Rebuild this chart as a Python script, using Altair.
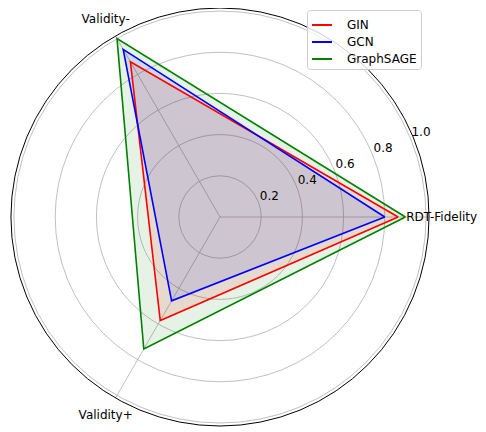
import math
import pandas as pd
import altair as alt

# ---- data ----
categories = ["RDT-Fidelity", "Validity-", "Validity+"]
models = ["GIN", "GCN", "GraphSAGE"]
gin_vals = [0.865, 0.87, 0.58]
gcn_vals = [0.80, 0.94, 0.47]
sage_vals = [0.90, 1.00, 0.74]
colors = ["#ff0000", "#0000ff", "#008000"]
r_ticks = [0.2, 0.4, 0.6, 0.8, 1.0]
r_tick_labels = ["0.2", "0.4", "0.6", "0.8", "1.0"]

RMAX = 1.0146
W = 418
N = len(categories)
TWO_PI_N = "(2*PI/3)"

values = {"GIN": gin_vals, "GCN": gcn_vals, "GraphSAGE": sage_vals}
rows = []
for m in models:
    for k in range(N + 1):
        i = k % N
        rows.append({"model": m, "idx": i, "ord": k, "value": values[m][i],
                     "category": categories[i]})
poly = pd.DataFrame(rows)

cats = pd.DataFrame({"category": categories, "idx": list(range(N))})
grid = pd.DataFrame({"r": r_ticks})
frame = pd.DataFrame({"r": [RMAX]})
ticks = pd.DataFrame({"v": r_ticks, "label": r_tick_labels})

xs = alt.Scale(domain=[-RMAX, RMAX])
ys = alt.Scale(domain=[-RMAX, RMAX])
rs = alt.Scale(type="linear", domain=[0, RMAX], range=[0, W / 2], zero=True)


def X(f):
    return alt.X(f"{f}:Q", scale=xs, axis=None)


def Y(f):
    return alt.Y(f"{f}:Q", scale=ys, axis=None)


poly_base = alt.Chart(poly).transform_calculate(
    th=f"datum.idx*{TWO_PI_N}"
).transform_calculate(
    x="datum.value*cos(datum.th)", y="datum.value*sin(datum.th)"
)

grid_layer = alt.Chart(grid).mark_arc(
    theta=0, theta2=2 * math.pi, filled=False, stroke="#b0b0b0", strokeWidth=0.8
).encode(radius=alt.Radius("r:Q", scale=rs, stack=None))

spokes = alt.Chart(cats).transform_calculate(
    th=f"datum.idx*{TWO_PI_N}"
).transform_calculate(
    x0="0", y0="0", x1=f"{RMAX}*cos(datum.th)", y1=f"{RMAX}*sin(datum.th)"
).mark_rule(color="#b0b0b0", strokeWidth=0.8).encode(
    x=X("x0"), y=Y("y0"), x2="x1:Q", y2="y1:Q"
)

frame_layer = alt.Chart(frame).mark_arc(
    theta=0, theta2=2 * math.pi, filled=False, stroke="black", strokeWidth=1
).encode(radius=alt.Radius("r:Q", scale=rs, stack=None))

fill_layers = []
for m, c in zip(models, colors):
    fill_layers.append(
        poly_base.transform_filter(alt.datum.model == m).mark_line(
            stroke=c, strokeOpacity=0, fill=c, fillOpacity=0.1
        ).encode(x=X("x"), y=Y("y"), order=alt.Order("ord:Q"))
    )

lines = poly_base.mark_line(strokeWidth=1.6).encode(
    x=X("x"), y=Y("y"), order=alt.Order("ord:Q"),
    color=alt.Color("model:N", scale=alt.Scale(domain=models, range=colors),
                    legend=alt.Legend(title=None, orient="none", legendX=296, legendY=2)),
)

cat_base = alt.Chart(cats).transform_calculate(
    th=f"datum.idx*{TWO_PI_N}"
).transform_calculate(
    x="1.11*cos(datum.th)", y="1.11*sin(datum.th)"
)
cat_labels_left = cat_base.transform_filter("datum.idx > 0").mark_text(
    align="center", baseline="middle", fontSize=12, font="DejaVu Sans", color="black"
).encode(x=X("x"), y=Y("y"), text="category:N")
cat_labels_right = cat_base.transform_filter("datum.idx == 0").mark_text(
    align="center", baseline="middle", fontSize=12, font="DejaVu Sans", color="black", dx=-7
).encode(x=X("x"), y=Y("y"), text="category:N")

tick_labels = alt.Chart(ticks).transform_calculate(
    x="(datum.v+0.06)*cos(23*PI/180)", y="(datum.v+0.06)*sin(23*PI/180)"
).mark_text(align="center", baseline="middle", fontSize=12, font="DejaVu Sans",
            color="black").encode(x=X("x"), y=Y("y"), text="label:N")

chart = alt.layer(
    grid_layer, spokes, frame_layer, *fill_layers, lines,
    cat_labels_left, cat_labels_right, tick_labels
).properties(
    width=W, height=W,
    autosize=alt.AutoSizeParams(type="none"),
    padding={"left": 3, "top": 0, "right": 49, "bottom": 6},
).configure_view(stroke=None).configure_legend(
    symbolType="stroke", symbolStrokeWidth=2, symbolSize=400,
    labelFontSize=12, labelFont="DejaVu Sans", labelColor="black",
    fillColor="rgba(255,255,255,0.8)", strokeColor="#cccccc", cornerRadius=3,
    padding=4, rowPadding=-1, labelOffset=14,
)

chart.save("out.html", embed_options={"renderer": "svg", "actions": False})
